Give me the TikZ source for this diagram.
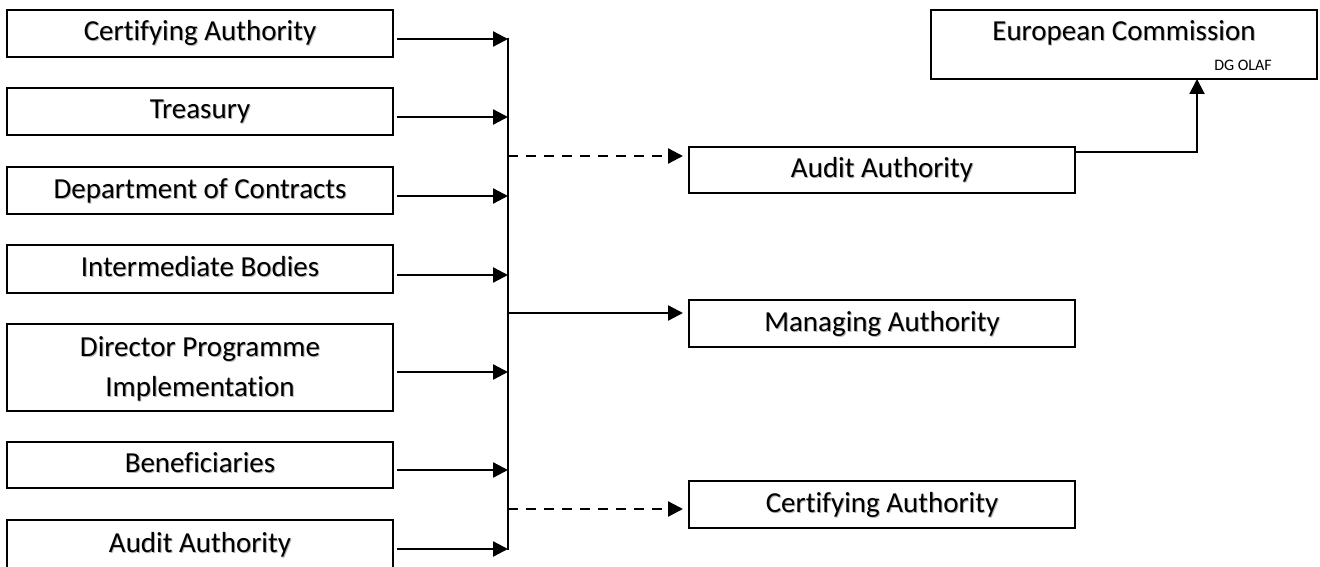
\documentclass[tikz,border=0pt]{standalone}
\usepackage{fontspec}
\setmainfont{Carlito}[Ligatures=NoCommon]
\usetikzlibrary{arrows.meta}
\newcommand\shtxt[1]{\leavevmode\rlap{\kern1pt\raisebox{-1pt}{\color{black!30}#1}}#1}
\begin{document}
\begin{tikzpicture}[x=1pt,y=-1pt,
  box/.style={draw=black,line width=2.3pt,rectangle,inner sep=0pt,outer sep=0pt,
    minimum width=386pt,font=\fontsize{29}{40}\selectfont,text=black,
    text height=19pt,text depth=4pt},
  arr/.style={line width=2.3pt,-{Triangle[length=15pt,width=15pt]}},
  darr/.style={arr,dash pattern=on 10pt off 8pt},
  bigtxt/.style={inner sep=0pt,font=\fontsize{29}{35}\selectfont,text height=19pt,text depth=4pt},
  smalltxt/.style={inner sep=0pt,font=\fontsize{16}{19}\selectfont}]
\useasboundingbox (0,0) rectangle (1320,567);
\clip (0,0) rectangle (1320,567);
% left boxes
\node[box,minimum height=47pt] (l1) at (200,33.5) {\shtxt{Certifying Authority}};
\node[box,minimum height=47pt] (l2) at (200,111.5) {\shtxt{Treasury}};
\node[box,minimum height=47pt] (l3) at (200,190.5) {\shtxt{Department of Contracts}};
\node[box,minimum height=48pt] (l4) at (200,269) {\shtxt{Intermediate Bodies}};
\node[box,minimum height=87pt,align=center,text height=59pt,text depth=2pt] (l5) at (200,367.5) {\shtxt{Director Programme}\\\shtxt{Implementation}};
\node[box,minimum height=46pt] (l6) at (200,465) {\shtxt{Beneficiaries}};
\node[box,minimum height=50pt] (l7) at (200,545) {\shtxt{Audit Authority}};
% right boxes
\node[box,minimum height=46pt] (r1) at (882,170) {\shtxt{Audit Authority}};
\node[box,minimum height=47pt] (r2) at (882,323.5) {\shtxt{Managing Authority}};
\node[box,minimum height=47pt] (r3) at (882,504.5) {\shtxt{Certifying Authority}};
\node[box,minimum height=69pt] (ec) at (1124,44.5) {};
\node[bigtxt] (ect) at (1124,33) {\shtxt{European Commission}};
\node[smalltxt] (dg) at (1243,65) {DG OLAF};
% bar
\coordinate (bt) at (508,38);
\coordinate (bb) at (508,550);
\draw[line width=2pt] (bt) -- (bb);
% left arrows
\draw[arr,shorten <=4pt] ([yshift=-5.5pt]l1.east) -- ([yshift=-5.5pt]l1.east -| bt);
\draw[arr,shorten <=4pt] ([yshift=-5.5pt]l2.east) -- ([yshift=-5.5pt]l2.east -| bt);
\draw[arr,shorten <=4pt] ([yshift=-5.5pt]l3.east) -- ([yshift=-5.5pt]l3.east -| bt);
\draw[arr,shorten <=4pt] ([yshift=-6pt]l4.east) -- ([yshift=-6pt]l4.east -| bt);
\draw[arr,shorten <=4pt] ([yshift=-4.5pt]l5.east) -- ([yshift=-4.5pt]l5.east -| bt);
\draw[arr,shorten <=4pt] ([yshift=-5pt]l6.east) -- ([yshift=-5pt]l6.east -| bt);
\draw[arr,shorten <=4pt] ([yshift=-4pt]l7.east) -- ([yshift=-4pt]l7.east -| bt);
% right arrows
\draw[darr,shorten >=6pt] ([yshift=14pt]r1.west -| bt) -- ([yshift=14pt]r1.west);
\draw[arr,shorten >=6pt] ([yshift=10.5pt]r2.west -| bt) -- ([yshift=10.5pt]r2.west);
\draw[darr,shorten >=6pt] ([yshift=-4.5pt]r3.west -| bt) -- ([yshift=-4.5pt]r3.west);
% to European Commission
\draw[arr,line width=2pt] ([yshift=18pt]r1.east) -| ([xshift=73pt]ec.south);
\end{tikzpicture}
\end{document}
